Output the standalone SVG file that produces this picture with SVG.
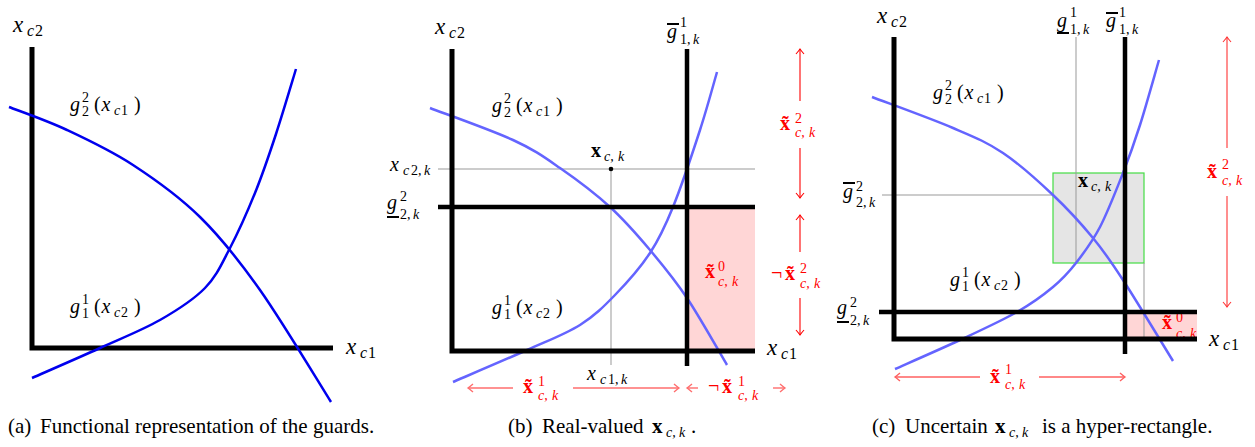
<svg xmlns="http://www.w3.org/2000/svg" width="1255" height="447" viewBox="0 0 1255 447">
<rect width="1255" height="447" fill="#fff"/>
<path d="M32,47 V348 H333" fill="none" stroke="#000" stroke-width="5"/>
<path d="M9,107 C18.7,110.8 46.3,120.3 67,130 C87.7,139.7 110.8,150.5 133,165 C155.2,179.5 178.8,196.2 200,217 C221.2,237.8 238.2,259.2 260,290 C281.8,320.8 319.2,383.3 331,402" fill="none" stroke="#0000ee" stroke-width="2.5"/>
<path d="M32,378 C43.3,373 78.7,357.7 100,348 C121.3,338.3 142.5,330 160,320 C177.5,310 193.3,300 205,288 C216.7,276 221.7,263.8 230,248 C238.3,232.2 247.3,212 255,193 C262.7,174 269.2,154.7 276,134 C282.8,113.3 292.7,79.8 296,69" fill="none" stroke="#0000ee" stroke-width="2.5"/>
<text x="13" y="32" font-family="Liberation Serif" font-size="23" font-style="italic">x</text>
<text x="27" y="36" font-family="Liberation Serif" font-size="16" font-style="italic">c</text>
<text x="35" y="36" font-family="Liberation Serif" font-size="16">2</text>
<text x="346" y="354" font-family="Liberation Serif" font-size="23" font-style="italic">x</text>
<text x="360" y="358" font-family="Liberation Serif" font-size="16" font-style="italic">c</text>
<text x="368" y="358" font-family="Liberation Serif" font-size="16">1</text>
<text x="70" y="111" font-family="Liberation Serif" font-size="20" font-style="italic">g</text>
<text x="82" y="102" font-family="Liberation Serif" font-size="14">2</text>
<text x="82" y="116" font-family="Liberation Serif" font-size="14">2</text>
<text x="94" y="111" font-family="Liberation Serif" font-size="20">(</text>
<text x="101.5" y="111" font-family="Liberation Serif" font-size="20" font-style="italic">x</text>
<text x="114" y="115" font-family="Liberation Serif" font-size="14" font-style="italic">c</text>
<text x="121" y="115" font-family="Liberation Serif" font-size="14">1</text>
<text x="134" y="111" font-family="Liberation Serif" font-size="20">)</text>
<text x="70" y="313" font-family="Liberation Serif" font-size="20" font-style="italic">g</text>
<text x="82" y="304" font-family="Liberation Serif" font-size="14">1</text>
<text x="82" y="318" font-family="Liberation Serif" font-size="14">1</text>
<text x="94" y="313" font-family="Liberation Serif" font-size="20">(</text>
<text x="101.5" y="313" font-family="Liberation Serif" font-size="20" font-style="italic">x</text>
<text x="114" y="317" font-family="Liberation Serif" font-size="14" font-style="italic">c</text>
<text x="121" y="317" font-family="Liberation Serif" font-size="14">2</text>
<text x="134" y="313" font-family="Liberation Serif" font-size="20">)</text>
<text x="8" y="433" font-family="Liberation Serif" font-size="21">(a)</text>
<text x="40" y="433" font-family="Liberation Serif" font-size="21">Functional representation of the guards.</text>
<rect x="687" y="207" width="68" height="144" fill="#ffd6d6"/>
<line x1="438" y1="169" x2="755" y2="169" stroke="#999" stroke-width="1"/>
<line x1="611" y1="169" x2="611" y2="365" stroke="#999" stroke-width="1"/>
<path d="M430,108 C443.8,113.3 491.3,130 513,140 C534.7,150 543.8,156.8 560,168 C576.2,179.2 595,193.3 610,207 C625,220.7 637.2,234.8 650,250 C662.8,265.2 674.2,278.8 687,298 C699.8,317.2 720.3,353.8 727,365" fill="none" stroke="#6464ff" stroke-width="2.5"/>
<path d="M453,382 C465.3,376.7 505.8,359.5 527,350 C548.2,340.5 565.3,334.2 580,325 C594.7,315.8 603.3,307 615,295 C626.7,283 640.3,267.7 650,253 C659.7,238.3 664.7,227.5 673,207 C681.3,186.5 692.7,152.5 700,130 C707.3,107.5 714.2,81.7 717,72" fill="none" stroke="#6464ff" stroke-width="2.5"/>
<path d="M452,49 V351 H755" fill="none" stroke="#000" stroke-width="5"/>
<line x1="687" y1="49" x2="687" y2="366" stroke="#000" stroke-width="4.5"/>
<line x1="438" y1="207" x2="755" y2="207" stroke="#000" stroke-width="4.5"/>
<circle cx="611" cy="169" r="2.3" fill="#000"/>
<text x="435" y="34" font-family="Liberation Serif" font-size="23" font-style="italic">x</text>
<text x="449" y="38" font-family="Liberation Serif" font-size="16" font-style="italic">c</text>
<text x="457" y="38" font-family="Liberation Serif" font-size="16">2</text>
<text x="767" y="355" font-family="Liberation Serif" font-size="23" font-style="italic">x</text>
<text x="781" y="359" font-family="Liberation Serif" font-size="16" font-style="italic">c</text>
<text x="789" y="359" font-family="Liberation Serif" font-size="16">1</text>
<line x1="667" y1="24" x2="679" y2="24" stroke="#000" stroke-width="2"/>
<text x="667" y="38" font-family="Liberation Serif" font-size="20" font-style="italic">g</text>
<text x="680" y="27" font-family="Liberation Serif" font-size="14">1</text>
<text x="680" y="44" font-family="Liberation Serif" font-size="14">1,</text>
<text x="693" y="44" font-family="Liberation Serif" font-size="14" font-style="italic">k</text>
<line x1="387" y1="217" x2="399" y2="217" stroke="#000" stroke-width="2"/>
<text x="387" y="209" font-family="Liberation Serif" font-size="20" font-style="italic">g</text>
<text x="400" y="201" font-family="Liberation Serif" font-size="14">2</text>
<text x="400" y="219" font-family="Liberation Serif" font-size="14">2,</text>
<text x="413" y="219" font-family="Liberation Serif" font-size="14" font-style="italic">k</text>
<text x="390" y="171" font-family="Liberation Serif" font-size="20" font-style="italic">x</text>
<text x="403" y="175" font-family="Liberation Serif" font-size="14" font-style="italic">c</text>
<text x="411" y="175" font-family="Liberation Serif" font-size="14">2,</text>
<text x="424" y="175" font-family="Liberation Serif" font-size="14" font-style="italic">k</text>
<text x="591" y="157" font-family="Liberation Serif" font-size="20" font-weight="bold">x</text>
<text x="604" y="161" font-family="Liberation Serif" font-size="14" font-style="italic">c,</text>
<text x="618" y="161" font-family="Liberation Serif" font-size="14" font-style="italic">k</text>
<text x="587" y="380" font-family="Liberation Serif" font-size="20" font-style="italic">x</text>
<text x="600" y="384" font-family="Liberation Serif" font-size="14" font-style="italic">c</text>
<text x="608" y="384" font-family="Liberation Serif" font-size="14">1,</text>
<text x="621" y="384" font-family="Liberation Serif" font-size="14" font-style="italic">k</text>
<text x="492" y="112" font-family="Liberation Serif" font-size="20" font-style="italic">g</text>
<text x="504" y="103" font-family="Liberation Serif" font-size="14">2</text>
<text x="504" y="117" font-family="Liberation Serif" font-size="14">2</text>
<text x="516" y="112" font-family="Liberation Serif" font-size="20">(</text>
<text x="523.5" y="112" font-family="Liberation Serif" font-size="20" font-style="italic">x</text>
<text x="536" y="116" font-family="Liberation Serif" font-size="14" font-style="italic">c</text>
<text x="543" y="116" font-family="Liberation Serif" font-size="14">1</text>
<text x="556" y="112" font-family="Liberation Serif" font-size="20">)</text>
<text x="492" y="314" font-family="Liberation Serif" font-size="20" font-style="italic">g</text>
<text x="504" y="305" font-family="Liberation Serif" font-size="14">1</text>
<text x="504" y="319" font-family="Liberation Serif" font-size="14">1</text>
<text x="516" y="314" font-family="Liberation Serif" font-size="20">(</text>
<text x="523.5" y="314" font-family="Liberation Serif" font-size="20" font-style="italic">x</text>
<text x="536" y="318" font-family="Liberation Serif" font-size="14" font-style="italic">c</text>
<text x="543" y="318" font-family="Liberation Serif" font-size="14">2</text>
<text x="556" y="314" font-family="Liberation Serif" font-size="20">)</text>
<text x="705" y="278" font-family="Liberation Serif" font-size="20" font-weight="bold" fill="#ff0000">x&#771;</text>
<text x="718" y="271" font-family="Liberation Serif" font-size="14" fill="#ff0000">0</text>
<text x="718" y="286" font-family="Liberation Serif" font-size="14" font-style="italic" fill="#ff0000">c,</text>
<text x="732" y="286" font-family="Liberation Serif" font-size="14" font-style="italic" fill="#ff0000">k</text>
<line x1="513" y1="388" x2="468" y2="388" stroke="#ff6e6e" stroke-width="1.4"/>
<path d="M473,384 Q469.5,387 468,388 Q469.5,389 473,392" fill="none" stroke="#ff6e6e" stroke-width="1.4"/>
<line x1="573" y1="388" x2="679" y2="388" stroke="#ff6e6e" stroke-width="1.4"/>
<path d="M674,384 Q677.5,387 679,388 Q677.5,389 674,392" fill="none" stroke="#ff6e6e" stroke-width="1.4"/>
<line x1="698" y1="388" x2="687" y2="388" stroke="#ff6e6e" stroke-width="1.4"/>
<path d="M692,384 Q688.5,387 687,388 Q688.5,389 692,392" fill="none" stroke="#ff6e6e" stroke-width="1.4"/>
<line x1="773" y1="388" x2="785" y2="388" stroke="#ff6e6e" stroke-width="1.4"/>
<path d="M780,384 Q783.5,387 785,388 Q783.5,389 780,392" fill="none" stroke="#ff6e6e" stroke-width="1.4"/>
<line x1="800" y1="101" x2="800" y2="49" stroke="#ff0000" stroke-width="1.1"/>
<path d="M796,54 Q799,50.5 800,49 Q801,50.5 804,54" fill="none" stroke="#ff0000" stroke-width="1.1"/>
<line x1="800" y1="148" x2="800" y2="198" stroke="#ff0000" stroke-width="1.1"/>
<path d="M796,193 Q799,196.5 800,198 Q801,196.5 804,193" fill="none" stroke="#ff0000" stroke-width="1.1"/>
<line x1="800" y1="252" x2="800" y2="215" stroke="#ff0000" stroke-width="1.1"/>
<path d="M796,220 Q799,216.5 800,215 Q801,216.5 804,220" fill="none" stroke="#ff0000" stroke-width="1.1"/>
<line x1="800" y1="298" x2="800" y2="335" stroke="#ff0000" stroke-width="1.1"/>
<path d="M796,330 Q799,333.5 800,335 Q801,333.5 804,330" fill="none" stroke="#ff0000" stroke-width="1.1"/>
<text x="523" y="393" font-family="Liberation Serif" font-size="20" font-weight="bold" fill="#ff0000">x&#771;</text>
<text x="538" y="386" font-family="Liberation Serif" font-size="14" fill="#ff0000">1</text>
<text x="538" y="400" font-family="Liberation Serif" font-size="14" font-style="italic" fill="#ff0000">c,</text>
<text x="552" y="400" font-family="Liberation Serif" font-size="14" font-style="italic" fill="#ff0000">k</text>
<text x="708" y="393" font-family="Liberation Serif" font-size="20" fill="#ff0000">&#172;</text>
<text x="722" y="393" font-family="Liberation Serif" font-size="20" font-weight="bold" fill="#ff0000">x&#771;</text>
<text x="738" y="386" font-family="Liberation Serif" font-size="14" fill="#ff0000">1</text>
<text x="738" y="400" font-family="Liberation Serif" font-size="14" font-style="italic" fill="#ff0000">c,</text>
<text x="752" y="400" font-family="Liberation Serif" font-size="14" font-style="italic" fill="#ff0000">k</text>
<text x="780" y="130" font-family="Liberation Serif" font-size="20" font-weight="bold" fill="#ff0000">x&#771;</text>
<text x="795" y="123" font-family="Liberation Serif" font-size="14" fill="#ff0000">2</text>
<text x="795" y="137" font-family="Liberation Serif" font-size="14" font-style="italic" fill="#ff0000">c,</text>
<text x="809" y="137" font-family="Liberation Serif" font-size="14" font-style="italic" fill="#ff0000">k</text>
<text x="771" y="280" font-family="Liberation Serif" font-size="20" fill="#ff0000">&#172;</text>
<text x="785" y="280" font-family="Liberation Serif" font-size="20" font-weight="bold" fill="#ff0000">x&#771;</text>
<text x="800" y="273" font-family="Liberation Serif" font-size="14" fill="#ff0000">2</text>
<text x="800" y="288" font-family="Liberation Serif" font-size="14" font-style="italic" fill="#ff0000">c,</text>
<text x="814" y="288" font-family="Liberation Serif" font-size="14" font-style="italic" fill="#ff0000">k</text>
<text x="508" y="433" font-family="Liberation Serif" font-size="21">(b)</text>
<text x="542" y="433" font-family="Liberation Serif" font-size="21">Real-valued</text>
<text x="652" y="433" font-family="Liberation Serif" font-size="21" font-weight="bold">x</text>
<text x="666" y="437" font-family="Liberation Serif" font-size="14" font-style="italic">c,</text>
<text x="679" y="437" font-family="Liberation Serif" font-size="14" font-style="italic">k</text>
<text x="691" y="433" font-family="Liberation Serif" font-size="21">.</text>
<rect x="1125" y="312" width="72" height="27" fill="#ffd6d6"/>
<rect x="1053" y="173" width="91" height="90" fill="#e5e5e5" stroke="#44dd44" stroke-width="1.2"/>
<line x1="882" y1="195" x2="1053" y2="195" stroke="#999" stroke-width="1"/>
<line x1="1076" y1="37" x2="1076" y2="263" stroke="#999" stroke-width="1"/>
<line x1="1144" y1="263" x2="1144" y2="338" stroke="#999" stroke-width="1"/>
<text x="1162" y="329" font-family="Liberation Serif" font-size="20" font-weight="bold" fill="#ff0000">x&#771;</text>
<text x="1176" y="322" font-family="Liberation Serif" font-size="14" fill="#ff0000">0</text>
<text x="1176" y="338" font-family="Liberation Serif" font-size="14" font-style="italic" fill="#ff0000">c,</text>
<text x="1190" y="338" font-family="Liberation Serif" font-size="14" font-style="italic" fill="#ff0000">k</text>
<path d="M872,97 C885.5,102.2 931.2,118.7 953,128 C974.8,137.3 986.3,141.8 1003,153 C1019.7,164.2 1038,180.8 1053,195 C1068,209.2 1081.3,223.8 1093,238 C1104.7,252.2 1109.7,259.5 1123,280 C1136.3,300.5 1164.7,347.5 1173,361" fill="none" stroke="#6464ff" stroke-width="2.5"/>
<path d="M895,369 C905.8,364.2 939.7,349.5 960,340 C980.3,330.5 1001.5,320.8 1017,312 C1032.5,303.2 1043.2,295.2 1053,287 C1062.8,278.8 1068.2,273 1076,263 C1083.8,253 1092.2,242 1100,227 C1107.8,212 1116.3,190 1123,173 C1129.7,156 1134,143.8 1140,125 C1146,106.2 1155.8,70.8 1159,60" fill="none" stroke="#6464ff" stroke-width="2.5"/>
<path d="M894,37 V339 H1197" fill="none" stroke="#000" stroke-width="5"/>
<line x1="1125" y1="37" x2="1125" y2="354" stroke="#000" stroke-width="4.5"/>
<line x1="879" y1="312" x2="1197" y2="312" stroke="#000" stroke-width="4.5"/>
<text x="877" y="23" font-family="Liberation Serif" font-size="23" font-style="italic">x</text>
<text x="891" y="27" font-family="Liberation Serif" font-size="16" font-style="italic">c</text>
<text x="899" y="27" font-family="Liberation Serif" font-size="16">2</text>
<text x="1209" y="346" font-family="Liberation Serif" font-size="23" font-style="italic">x</text>
<text x="1223" y="350" font-family="Liberation Serif" font-size="16" font-style="italic">c</text>
<text x="1231" y="350" font-family="Liberation Serif" font-size="16">1</text>
<line x1="1057" y1="33" x2="1069" y2="33" stroke="#000" stroke-width="2"/>
<text x="1057" y="27" font-family="Liberation Serif" font-size="20" font-style="italic">g</text>
<text x="1070" y="17" font-family="Liberation Serif" font-size="14">1</text>
<text x="1070" y="34" font-family="Liberation Serif" font-size="14">1,</text>
<text x="1083" y="34" font-family="Liberation Serif" font-size="14" font-style="italic">k</text>
<line x1="1106" y1="13" x2="1118" y2="13" stroke="#000" stroke-width="2"/>
<text x="1106" y="27" font-family="Liberation Serif" font-size="20" font-style="italic">g</text>
<text x="1119" y="17" font-family="Liberation Serif" font-size="14">1</text>
<text x="1119" y="34" font-family="Liberation Serif" font-size="14">1,</text>
<text x="1132" y="34" font-family="Liberation Serif" font-size="14" font-style="italic">k</text>
<line x1="843" y1="183" x2="855" y2="183" stroke="#000" stroke-width="2"/>
<text x="843" y="198" font-family="Liberation Serif" font-size="20" font-style="italic">g</text>
<text x="856" y="191" font-family="Liberation Serif" font-size="14">2</text>
<text x="856" y="207" font-family="Liberation Serif" font-size="14">2,</text>
<text x="869" y="207" font-family="Liberation Serif" font-size="14" font-style="italic">k</text>
<line x1="837" y1="322" x2="849" y2="322" stroke="#000" stroke-width="2"/>
<text x="837" y="314" font-family="Liberation Serif" font-size="20" font-style="italic">g</text>
<text x="850" y="307" font-family="Liberation Serif" font-size="14">2</text>
<text x="850" y="325" font-family="Liberation Serif" font-size="14">2,</text>
<text x="863" y="325" font-family="Liberation Serif" font-size="14" font-style="italic">k</text>
<text x="1078" y="187" font-family="Liberation Serif" font-size="20" font-weight="bold">x</text>
<text x="1091" y="191" font-family="Liberation Serif" font-size="14" font-style="italic">c,</text>
<text x="1105" y="191" font-family="Liberation Serif" font-size="14" font-style="italic">k</text>
<text x="933" y="99" font-family="Liberation Serif" font-size="20" font-style="italic">g</text>
<text x="945" y="90" font-family="Liberation Serif" font-size="14">2</text>
<text x="945" y="104" font-family="Liberation Serif" font-size="14">2</text>
<text x="957" y="99" font-family="Liberation Serif" font-size="20">(</text>
<text x="964.5" y="99" font-family="Liberation Serif" font-size="20" font-style="italic">x</text>
<text x="977" y="103" font-family="Liberation Serif" font-size="14" font-style="italic">c</text>
<text x="984" y="103" font-family="Liberation Serif" font-size="14">1</text>
<text x="997" y="99" font-family="Liberation Serif" font-size="20">)</text>
<text x="950" y="286" font-family="Liberation Serif" font-size="20" font-style="italic">g</text>
<text x="962" y="277" font-family="Liberation Serif" font-size="14">1</text>
<text x="962" y="291" font-family="Liberation Serif" font-size="14">1</text>
<text x="974" y="286" font-family="Liberation Serif" font-size="20">(</text>
<text x="981.5" y="286" font-family="Liberation Serif" font-size="20" font-style="italic">x</text>
<text x="994" y="290" font-family="Liberation Serif" font-size="14" font-style="italic">c</text>
<text x="1001" y="290" font-family="Liberation Serif" font-size="14">2</text>
<text x="1014" y="286" font-family="Liberation Serif" font-size="20">)</text>
<line x1="980" y1="377" x2="895" y2="377" stroke="#ff6060" stroke-width="1.4"/>
<path d="M900,373 Q896.5,376 895,377 Q896.5,378 900,381" fill="none" stroke="#ff6060" stroke-width="1.4"/>
<line x1="1039" y1="377" x2="1125" y2="377" stroke="#ff6060" stroke-width="1.4"/>
<path d="M1120,373 Q1123.5,376 1125,377 Q1123.5,378 1120,381" fill="none" stroke="#ff6060" stroke-width="1.4"/>
<line x1="1227" y1="148" x2="1227" y2="37" stroke="#ff3333" stroke-width="1.1"/>
<path d="M1223,42 Q1226,38.5 1227,37 Q1228,38.5 1231,42" fill="none" stroke="#ff3333" stroke-width="1.1"/>
<line x1="1227" y1="196" x2="1227" y2="307" stroke="#ff3333" stroke-width="1.1"/>
<path d="M1223,302 Q1226,305.5 1227,307 Q1228,305.5 1231,302" fill="none" stroke="#ff3333" stroke-width="1.1"/>
<text x="990" y="383" font-family="Liberation Serif" font-size="20" font-weight="bold" fill="#ff0000">x&#771;</text>
<text x="1005" y="374" font-family="Liberation Serif" font-size="14" fill="#ff0000">1</text>
<text x="1005" y="389" font-family="Liberation Serif" font-size="14" font-style="italic" fill="#ff0000">c,</text>
<text x="1019" y="389" font-family="Liberation Serif" font-size="14" font-style="italic" fill="#ff0000">k</text>
<text x="1207" y="178" font-family="Liberation Serif" font-size="20" font-weight="bold" fill="#ff0000">x&#771;</text>
<text x="1222" y="169" font-family="Liberation Serif" font-size="14" fill="#ff0000">2</text>
<text x="1222" y="185" font-family="Liberation Serif" font-size="14" font-style="italic" fill="#ff0000">c,</text>
<text x="1236" y="185" font-family="Liberation Serif" font-size="14" font-style="italic" fill="#ff0000">k</text>
<text x="872" y="433" font-family="Liberation Serif" font-size="21">(c)</text>
<text x="905" y="433" font-family="Liberation Serif" font-size="21">Uncertain</text>
<text x="995" y="433" font-family="Liberation Serif" font-size="21" font-weight="bold">x</text>
<text x="1009" y="437" font-family="Liberation Serif" font-size="14" font-style="italic">c,</text>
<text x="1022" y="437" font-family="Liberation Serif" font-size="14" font-style="italic">k</text>
<text x="1042" y="433" font-family="Liberation Serif" font-size="21">is a hyper-rectangle.</text>
</svg>
